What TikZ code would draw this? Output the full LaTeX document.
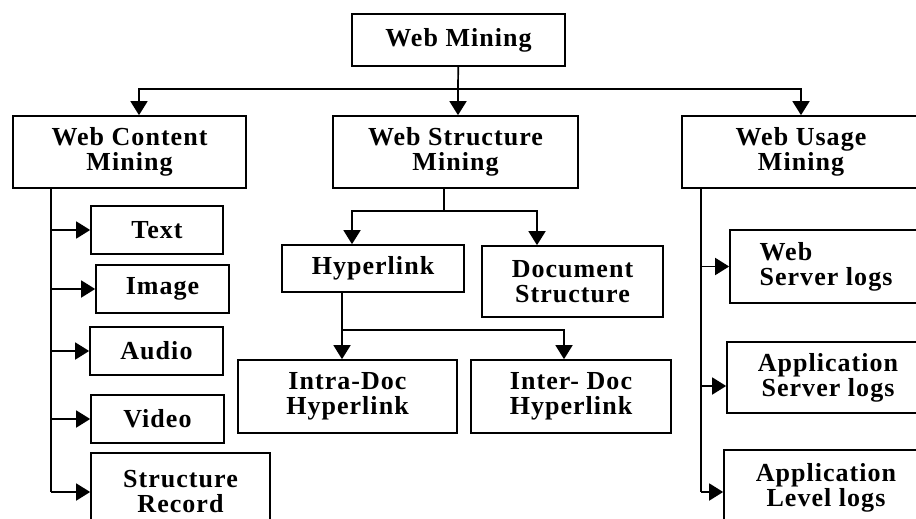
\documentclass[tikz,border=0pt]{standalone}
\usepackage{fontspec}
\setmainfont{Liberation Serif}[LetterSpace=4]
\usetikzlibrary{arrows.meta,calc}

\begin{document}
\begin{tikzpicture}[x=1pt,y=-1pt,line width=1.7pt,
  box/.style={draw,align=center,inner sep=0pt,font=\fontsize{26}{25}\selectfont\bfseries},
  arr/.style={-{Triangle[length=14pt,width=17pt]}}]
\clip (0,0) rectangle (916,519);
\node[box,minimum width=213pt,minimum height=52pt] (wm) at (458.5,40) {Web Mining};
\node[box,minimum width=233pt,minimum height=72pt] (wcm) at (129.5,152) {Web Content\\Mining};
\node[box,minimum width=245pt,minimum height=72pt] (wsm) at (455.5,152) {Web Structure\\Mining};
\node[box,minimum width=238pt,minimum height=72pt] (wum) at (801,152) {Web Usage\\Mining};
\node[box,minimum width=132pt,minimum height=48pt] (txt) at (157,230) {Text};
\node[box,minimum width=133pt,minimum height=48pt] (img) at (162.5,289) {Image};
\node[box,minimum width=133pt,minimum height=48pt] (aud) at (156.5,351) {Audio};
\node[box,minimum width=133pt,minimum height=48pt] (vid) at (157.5,419) {Video};
\node[box,minimum width=179pt,minimum height=78pt] (srec) at (180.5,492) {Structure\\Record};
\node[box,minimum width=182pt,minimum height=47pt] (hyp) at (373,268.5) {Hyperlink};
\node[box,minimum width=181pt,minimum height=71pt] (doc) at (572.5,281.5) {Document\\Structure};
\node[box,minimum width=219pt,minimum height=73pt] (intra) at (347.5,396.5) {Intra-Doc\\Hyperlink};
\node[box,minimum width=200pt,minimum height=73pt] (inter) at (571,396.5) {Inter- Doc\\Hyperlink};
\node[box,align=left,minimum width=192pt,minimum height=73pt] (wsl) at (826,266.5) {Web\\Server logs};
\node[box,minimum width=202pt,minimum height=71pt] (asl) at (828,377.5) {Application\\Server logs};
\node[box,minimum width=204pt,minimum height=76pt] (all) at (826,488) {Application\\Level logs};

\coordinate (j1) at (458,89);
\draw (wm) -- (j1);
\draw[arr] (j1) -| ([xshift=9.5pt]wcm.north);
\draw[arr] (j1) -- (j1 |- wsm.north);
\draw[arr] (j1) -| (wum);

\coordinate (j2) at (444,211);
\draw (wsm.south -| j2) -- (j2);
\draw[arr] (j2) -| ([xshift=-21pt]hyp.north);
\draw[arr] (j2) -| ([xshift=-35.5pt]doc.north);

\coordinate (j3) at (342,330);
\draw (hyp.south -| j3) -- (j3);
\draw[arr] (j3) -- (j3 |- intra.north);
\draw[arr] (j3) -| ([xshift=-7pt]inter.north);

\coordinate (lt) at (51,492);
\draw (wcm.south -| lt) -- (lt);
\foreach \n in {txt,img,aud,vid,srec}
  \draw[arr] (lt |- \n) -- (\n);

\coordinate (rt) at (701,492);
\coordinate (asla) at ($(asl.west)+(0,8.5)$);
\draw (wum.south -| rt) -- (rt);
\draw[arr] (rt |- wsl) -- (wsl);
\draw[arr] (rt |- asla) -- (asla);
\draw[arr] (rt) -- (rt -| all.west);
\end{tikzpicture}
\end{document}
